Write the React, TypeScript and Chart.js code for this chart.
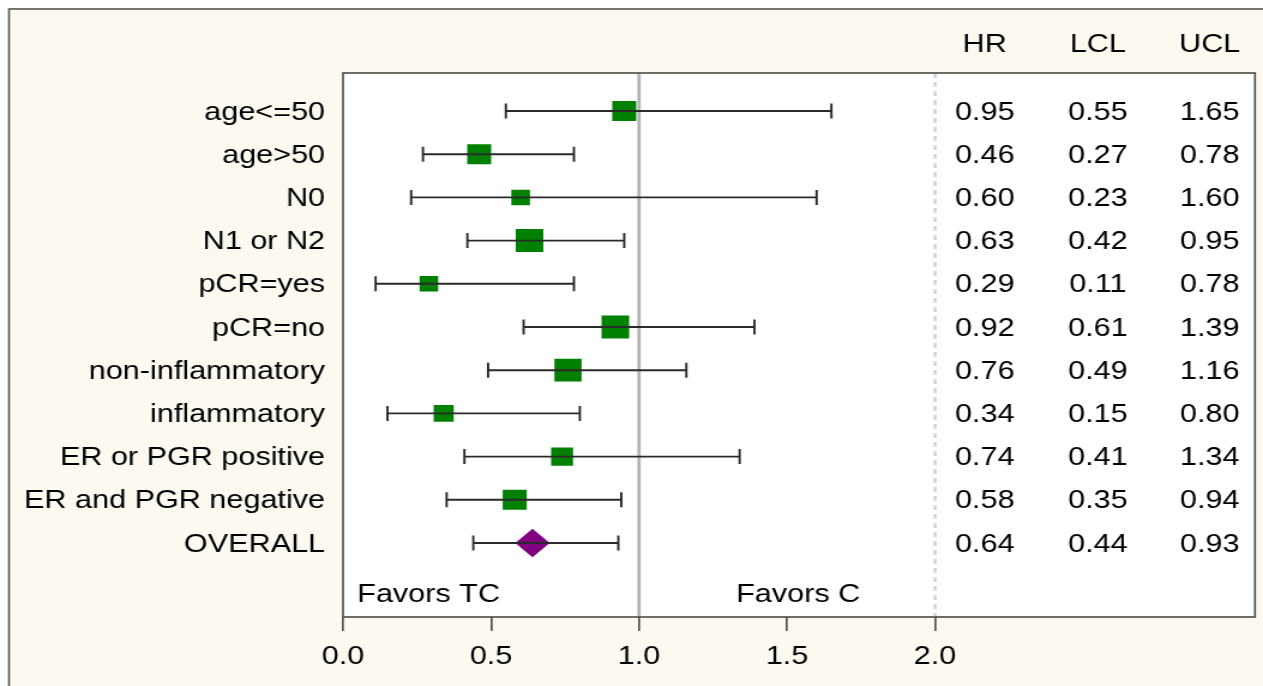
import React, { useEffect, useRef } from "react";
import { Chart, registerables } from "chart.js";

Chart.register(...registerables);

// ---------- data ----------
const categories = [
  "age<=50",
  "age>50",
  "N0",
  "N1 or N2",
  "pCR=yes",
  "pCR=no",
  "non-inflammatory",
  "inflammatory",
  "ER or PGR positive",
  "ER and PGR negative",
  "OVERALL",
];
const hrValues = [0.95, 0.46, 0.6, 0.63, 0.29, 0.92, 0.76, 0.34, 0.74, 0.58, 0.64];
const lclValues = [0.55, 0.27, 0.23, 0.42, 0.11, 0.61, 0.49, 0.15, 0.41, 0.35, 0.44];
const uclValues = [1.65, 0.78, 1.6, 0.95, 0.78, 1.39, 1.16, 0.8, 1.34, 0.94, 0.93];
const weights = [20, 20, 15.5, 23, 15.5, 23, 22.7, 16.7, 18.3, 20, 28.7];
const tickValues = [0, 0.5, 1, 1.5, 2];
const tableHeaders = ["HR", "LCL", "UCL"];
const favorLabels = ["Favors TC", "Favors C"];

// ---------- layout / style constants ----------
const PAGE_W = 1263;
const PAGE_H = 686;
const STRETCH = 1.2;
const CANVAS_W = Math.round(PAGE_W / STRETCH);
const CANVAS_H = PAGE_H;
const X_MAX = 3.081;
const Y_MIN = 0.12;
const Y_MAX = 12.713;
const FAVORS_ROW = 12.2;
const FAVORS_X = [0.048, 1.328];
const TABLE_X = [2.168, 2.55, 2.928];
const FONT = '"Liberation Sans", Arial, Helvetica, sans-serif';
const FONT_SIZE = 25.5;
const CREAM = "#fcf9f1";
const FRAME = "#58544c";
const GREEN = "#008000";
const PURPLE = "#800080";
const WHISKER = "#2a2a2a";

const forestPlugin = {
  id: "forest",
  beforeDraw(chart: any) {
    const { ctx, chartArea: a, width, height } = chart;
    ctx.save();
    ctx.fillStyle = "#ffffff";
    ctx.fillRect(0, 0, width, height);
    ctx.fillStyle = CREAM;
    ctx.fillRect(7.5, 9, width + 20, height + 20);
    ctx.strokeStyle = FRAME;
    ctx.lineWidth = 1.6;
    ctx.strokeRect(7.5, 9, width + 20, height + 20);
    ctx.fillStyle = "#ffffff";
    ctx.fillRect(a.left, a.top, a.right - a.left, a.bottom - a.top);
    ctx.restore();
  },
  beforeDatasetsDraw(chart: any) {
    const { ctx, chartArea: a, scales } = chart;
    const x = scales.x;
    ctx.save();
    // reference line at 1
    ctx.strokeStyle = "#b3b3b3";
    ctx.lineWidth = 2.8;
    const x1 = x.getPixelForValue(1);
    ctx.beginPath();
    ctx.moveTo(x1, a.top);
    ctx.lineTo(x1, a.bottom);
    ctx.stroke();
    // dashed separator at 2
    ctx.strokeStyle = "#d2d2d2";
    ctx.lineWidth = 2.4;
    ctx.setLineDash([5, 4]);
    const x2 = x.getPixelForValue(2);
    ctx.beginPath();
    ctx.moveTo(x2, a.top);
    ctx.lineTo(x2, a.bottom);
    ctx.stroke();
    ctx.restore();
  },
  afterDatasetsDraw(chart: any) {
    const { ctx, scales } = chart;
    const x = scales.x;
    const y = scales.y;
    ctx.save();
    ctx.strokeStyle = WHISKER;
    ctx.lineWidth = 1.9;
    const cap = 7.5;
    categories.forEach((_, i) => {
      const py = y.getPixelForValue(i + 1);
      const xl = x.getPixelForValue(lclValues[i]);
      const xu = x.getPixelForValue(uclValues[i]);
      ctx.beginPath();
      ctx.moveTo(xl, py);
      ctx.lineTo(xu, py);
      ctx.moveTo(xl, py - cap);
      ctx.lineTo(xl, py + cap);
      ctx.moveTo(xu, py - cap);
      ctx.lineTo(xu, py + cap);
      ctx.stroke();
    });
    ctx.restore();
  },
  afterDraw(chart: any) {
    const { ctx, chartArea: a, scales } = chart;
    const x = scales.x;
    const y = scales.y;
    ctx.save();
    // plot border
    ctx.strokeStyle = FRAME;
    ctx.lineWidth = 1.7;
    ctx.strokeRect(a.left, a.top, a.right - a.left, a.bottom - a.top);

    ctx.fillStyle = "#000000";
    ctx.font = `${FONT_SIZE}px ${FONT}`;
    ctx.textBaseline = "middle";

    // category labels
    ctx.textAlign = "right";
    categories.forEach((c, i) => {
      ctx.fillText(c, a.left - 15, y.getPixelForValue(i + 1) + 1.5);
    });

    // table
    ctx.textAlign = "center";
    tableHeaders.forEach((h, j) => {
      ctx.fillText(h, x.getPixelForValue(TABLE_X[j]), a.top - 28.5);
    });
    const cols = [hrValues, lclValues, uclValues];
    categories.forEach((_, i) => {
      const py = y.getPixelForValue(i + 1) + 1.5;
      cols.forEach((col, j) => {
        ctx.fillText(col[i].toFixed(2), x.getPixelForValue(TABLE_X[j]), py);
      });
    });

    // favors labels
    ctx.textAlign = "left";
    favorLabels.forEach((t, j) => {
      ctx.fillText(t, x.getPixelForValue(FAVORS_X[j]), y.getPixelForValue(FAVORS_ROW));
    });
    ctx.restore();
  },
};

export default function App() {
  const canvasRef = useRef<HTMLCanvasElement | null>(null);

  useEffect(() => {
    const canvas = canvasRef.current;
    if (!canvas) return;
    const n = categories.length;
    const squarePts = hrValues.slice(0, n - 1).map((v, i) => ({ x: v, y: i + 1 }));
    const squareRadius = weights.slice(0, n - 1).map((w) => w / Math.SQRT2);
    const overallPt = [{ x: hrValues[n - 1], y: n }];

    const chart = new Chart(canvas, {
      type: "scatter",
      data: {
        datasets: [
          {
            label: "subgroups",
            data: squarePts,
            pointStyle: "rect",
            pointRadius: squareRadius,
            pointHoverRadius: squareRadius,
            backgroundColor: GREEN,
            borderColor: GREEN,
            borderWidth: 0,
            showLine: false,
          },
          {
            label: "overall",
            data: overallPt,
            pointStyle: "rectRot",
            pointRadius: weights[n - 1] / 2,
            pointHoverRadius: weights[n - 1] / 2,
            backgroundColor: PURPLE,
            borderColor: PURPLE,
            borderWidth: 0,
            showLine: false,
          },
        ],
      },
      options: {
        responsive: false,
        animation: false,
        devicePixelRatio: 1,
        events: [],
        layout: {
          autoPadding: false,
          padding: { left: 286, right: CANVAS_W - 1046.3, top: 73, bottom: 0 },
        },
        plugins: {
          legend: { display: false },
          tooltip: { enabled: false },
        },
        scales: {
          x: {
            type: "linear",
            min: 0,
            max: X_MAX,
            afterBuildTicks: (scale: any) => {
              scale.ticks = tickValues.map((v) => ({ value: v }));
            },
            afterFit: (scale: any) => {
              scale.height = CANVAS_H - 617;
              scale.paddingLeft = 0;
              scale.paddingRight = 0;
            },
            ticks: {
              autoSkip: false,
              maxRotation: 0,
              color: "#000000",
              padding: 11,
              font: { family: FONT, size: FONT_SIZE },
              callback: (v: any) => Number(v).toFixed(1),
            },
            grid: {
              drawOnChartArea: false,
              drawTicks: true,
              tickLength: 14,
              color: FRAME,
              lineWidth: 1.7,
            },
            border: { display: false },
          },
          y: {
            type: "linear",
            display: false,
            reverse: true,
            min: Y_MIN,
            max: Y_MAX,
          },
        },
      },
      plugins: [forestPlugin],
    } as any);

    return () => {
      chart.destroy();
    };
  }, []);

  return (
    <div
      style={{
        position: "fixed",
        left: 0,
        top: 0,
        width: PAGE_W + "px",
        height: PAGE_H + "px",
        background: "#ffffff",
        overflow: "hidden",
      }}
    >
      <canvas
        ref={canvasRef}
        width={CANVAS_W}
        height={CANVAS_H}
        style={{ width: PAGE_W + "px", height: PAGE_H + "px", display: "block" }}
      />
    </div>
  );
}
